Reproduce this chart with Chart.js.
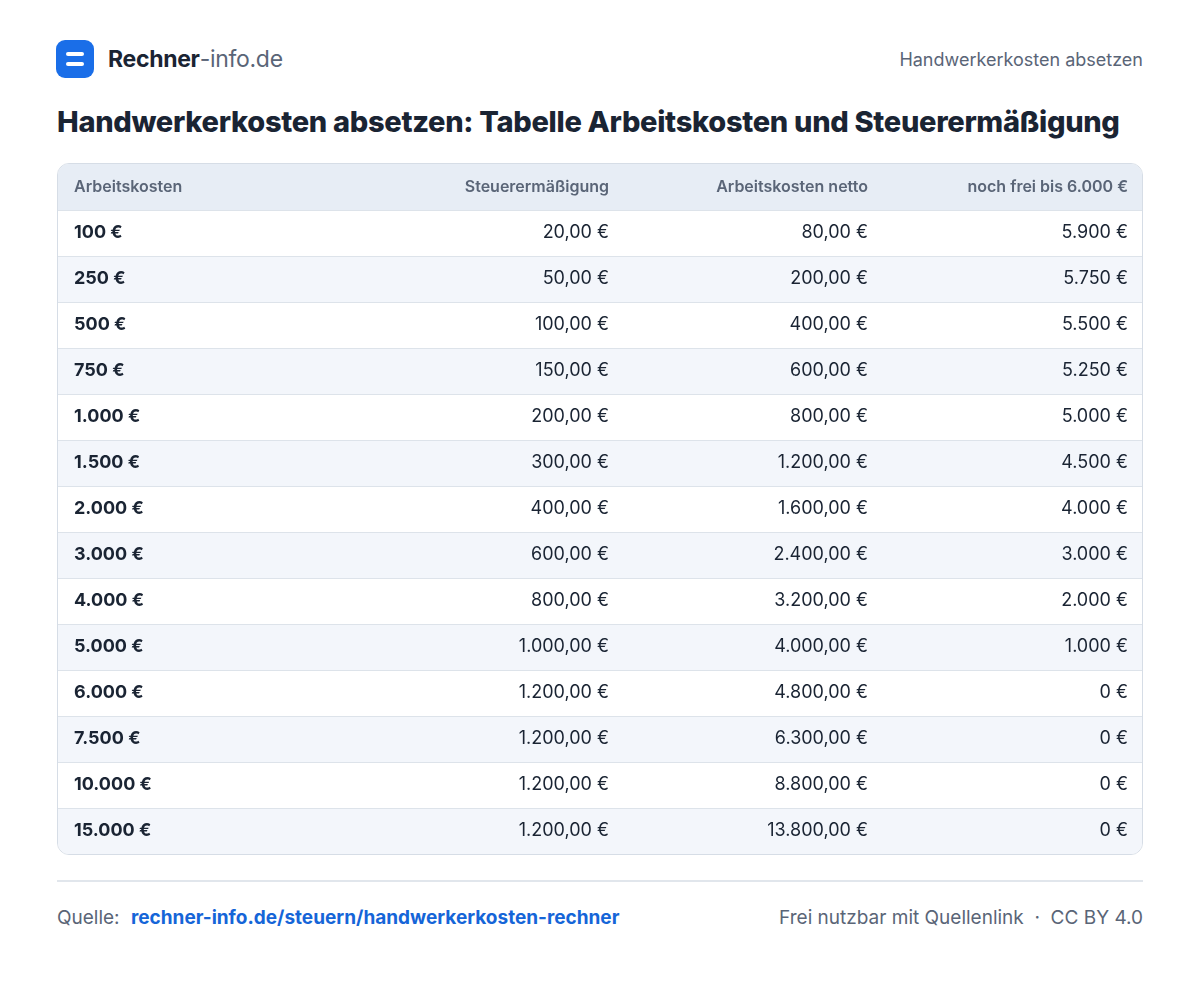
<!DOCTYPE html>
<html><head><meta charset="utf-8">
<script src="https://cdn.jsdelivr.net/npm/chart.js@4.4.1/dist/chart.umd.min.js"></script>
<style>
body{margin:0;width:1200px;height:1000px;background:#fff;font-family:Inter,"Noto Sans",sans-serif;position:relative;color:#1a2433}
.logo{position:absolute;left:56px;top:40px;width:38px;height:38px;background:#1a6ee8;border-radius:9px}
.logo i{position:absolute;left:10px;width:18px;height:4px;background:#fff;border-radius:2px}
.brand{position:absolute;left:108px;top:45px;font-size:23px;letter-spacing:-0.3px}
.brand b{color:#1a2433;font-weight:700}.brand span{color:#5a6577}
.topr{position:absolute;right:57px;top:49px;font-size:18px;color:#5a6577}
h1{position:absolute;left:57px;top:104px;margin:0;font-size:29px;font-weight:800;letter-spacing:-0.3px}
#wrap{position:absolute;left:57px;top:163px;width:1084px;height:690px;border:1px solid #d6dde6;border-radius:12px;overflow:hidden}
.hr{position:absolute;left:57px;top:880px;width:1086px;height:2px;background:#e1e6ec}
.src{position:absolute;left:57px;top:906px;font-size:19px;color:#5a6577}
.src a{color:#1565d8;font-weight:700;text-decoration:none;margin-left:6px}
.lic{position:absolute;right:57px;top:906px;font-size:19px;color:#5a6577}
</style></head><body>
<div class="logo"><i style="top:12px"></i><i style="top:22px"></i></div>
<div class="brand"><b>Rechner</b><span>-info.de</span></div>
<div class="topr">Handwerkerkosten absetzen</div>
<h1>Handwerkerkosten absetzen: Tabelle Arbeitskosten und Steuerermäßigung</h1>
<div id="wrap"><canvas id="c"></canvas></div>
<div class="hr"></div>
<div class="src">Quelle: <a>rechner-info.de/steuern/handwerkerkosten-rechner</a></div>
<div class="lic">Frei nutzbar mit Quellenlink &nbsp;·&nbsp; CC BY 4.0</div>
<script>
const headers=["Arbeitskosten","Steuerermäßigung","Arbeitskosten netto","noch frei bis 6.000 €"];
const arbeitskosten=["100 €","250 €","500 €","750 €","1.000 €","1.500 €","2.000 €","3.000 €","4.000 €","5.000 €","6.000 €","7.500 €","10.000 €","15.000 €"];
const steuerermaessigung=["20,00 €","50,00 €","100,00 €","150,00 €","200,00 €","300,00 €","400,00 €","600,00 €","800,00 €","1.000,00 €","1.200,00 €","1.200,00 €","1.200,00 €","1.200,00 €"];
const netto=["80,00 €","200,00 €","400,00 €","600,00 €","800,00 €","1.200,00 €","1.600,00 €","2.400,00 €","3.200,00 €","4.000,00 €","4.800,00 €","6.300,00 €","8.800,00 €","13.800,00 €"];
const nochFrei=["5.900 €","5.750 €","5.500 €","5.250 €","5.000 €","4.500 €","4.000 €","3.000 €","2.000 €","1.000 €","0 €","0 €","0 €","0 €"];
const rowLabels=["header"].concat(arbeitskosten);
const columns=[arbeitskosten,steuerermaessigung,netto,nochFrei];
const colX=[16,551,810,1070], colAlign=["left","right","right","right"];
const tablePlugin={id:'tbl',beforeDatasetsDraw(ch){
 const c=ch.ctx,y=ch.scales.y,x=ch.scales.x,W=ch.width;
 rowLabels.forEach((lab,i)=>{
  const cy=y.getPixelForValue(i),h=y.getPixelForValue(1)-y.getPixelForValue(0);
  const top=cy-h/2;
  c.fillStyle=i===0?'#e7edf5':(i%2===1?'#ffffff':'#f3f6fb');
  c.fillRect(0,top,W,h);
  if(i>0){c.fillStyle='#dde3ea';c.fillRect(0,top,W,1);}
  c.textBaseline='middle';
  for(let k=0;k<4;k++){
   c.textAlign=colAlign[k];
   const px=x.getPixelForValue(colX[k]);
   if(i===0){c.font='600 16px Inter';c.fillStyle='#5a6577';c.fillText(headers[k],px,cy);}
   else{c.font=(k===0?'700 ':'400 ')+'18px Inter';c.fillStyle='#1a2433';c.fillText(columns[k][i-1],px,cy);}
  }
 });
}};
new Chart(document.getElementById('c'),{type:'scatter',
 data:{labels:rowLabels,datasets:[{data:[],pointRadius:0}]},
 options:{responsive:true,maintainAspectRatio:false,animation:false,
  layout:{padding:0},
  plugins:{legend:{display:false},tooltip:{enabled:false}},
  scales:{x:{type:'linear',min:0,max:1084,display:false},
          y:{type:'category',labels:rowLabels,offset:true,reverse:false,display:false}}},
 plugins:[tablePlugin]});
</script></body></html>
